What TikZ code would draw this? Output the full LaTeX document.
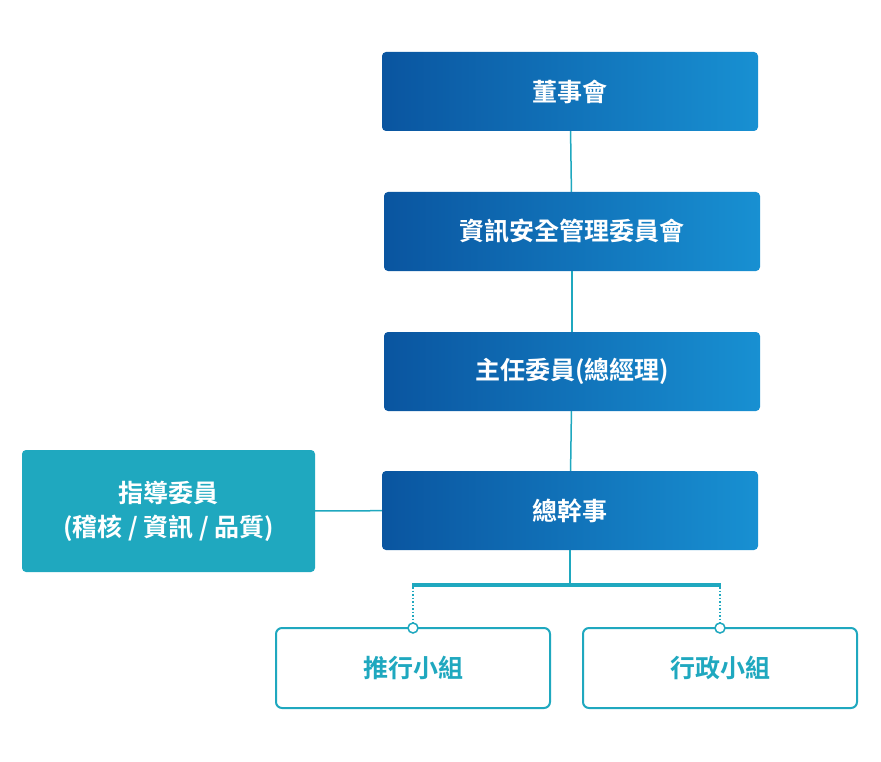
\documentclass[tikz,border=0pt]{standalone}
\usepackage{fontspec}
\newfontfamily\cjk{Noto Sans CJK TC}[BoldFont={* Bold}]
\definecolor{dblue}{HTML}{0A55A0}
\definecolor{lblue}{HTML}{1890D2}
\definecolor{teal}{HTML}{1FA8BF}
\begin{document}
\begin{tikzpicture}[x=1pt,y=-1pt,
 blue/.style={rounded corners=4pt,left color=dblue,right color=lblue,draw=none,text=white,font=\cjk\bfseries\fontsize{25}{30}\selectfont},
 tealbox/.style={rounded corners=4pt,fill=teal,text=white,align=center,font=\cjk\bfseries\fontsize{25}{34}\selectfont},
 wbox/.style={rounded corners=6pt,draw=teal,line width=2pt,fill=white,text=teal,font=\cjk\bfseries\fontsize{25}{30}\selectfont},
 ln/.style={teal,line width=1.5pt}]
\useasboundingbox (0,0) rectangle (881,762);
\path[ln] (570,131) -- (570,585);
\path[ln] (315,511) -- (382,511);
\node[blue,minimum width=376,minimum height=79] (a) at (570,91.5) {董事會};
\node[blue,minimum width=376,minimum height=79] (b) at (572,231.5) {資訊安全管理委員會};
\node[blue,minimum width=376,minimum height=79] (c) at (572,371.5) {主任委員(總經理)};
\node[blue,minimum width=376,minimum height=79] (d) at (570,510.5) {總幹事};
\node[tealbox,minimum width=293,minimum height=122] (e) at (168.5,511) {指導委員\\(稽核 / 資訊 / 品質)};
\draw[ln] (e) -- (d);
\draw[ln] (a) -- (b); \draw[ln] (b) -- (c); \draw[ln] (c) -- (d);
\coordinate (j) at (570,585);
\draw[ln] (d) -- (j);
\coordinate (l) at (412,585); \coordinate (r) at (721,585);
\draw[teal,line width=4pt] (l) -- (r);
\node[wbox,minimum width=274,minimum height=80] (f) at (413,668) {推行小組};
\node[wbox,minimum width=274,minimum height=80] (g) at (720,668) {行政小組};
\coordinate (cf) at (413,628); \coordinate (cg) at (720,628);
\draw[teal,line width=1.5pt,dotted] (413,587) -- (cf);
\draw[teal,line width=1.5pt,dotted] (720,587) -- (cg);
\draw[teal,line width=1.5pt,fill=white] (cf) circle (5);
\draw[teal,line width=1.5pt,fill=white] (cg) circle (5);
\end{tikzpicture}
\end{document}
